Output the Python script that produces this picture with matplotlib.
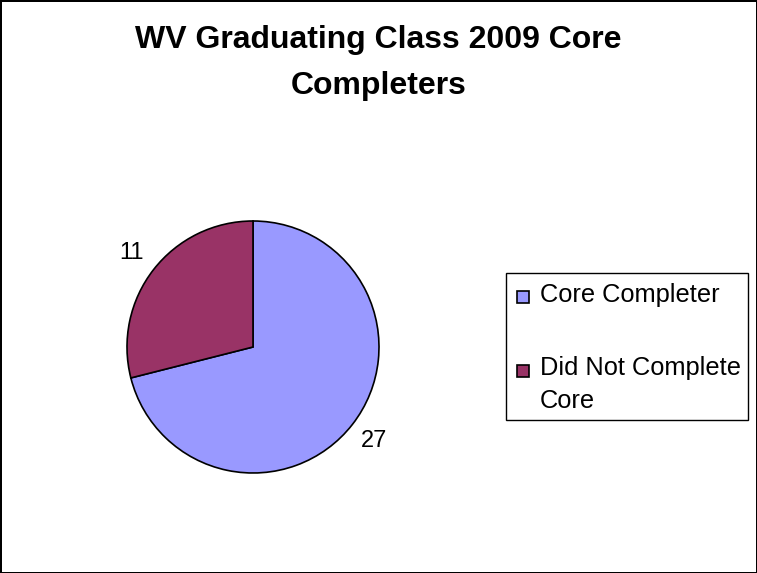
import matplotlib
matplotlib.use('Agg')
import matplotlib.pyplot as plt
from matplotlib.patches import Rectangle

plt.rcParams['font.family'] = ['Liberation Sans', 'DejaVu Sans']

# datos del grafico
categorias = ['Core Completer', 'Did Not Complete\nCore']
valores = [27, 11]
colores = ['#9999FF', '#993366']
titulo = 'WV Graduating Class 2009 Core\nCompleters'
W, H = 757, 573

fig = plt.figure(figsize=(W/100, H/100), dpi=100)
fig.patch.set_edgecolor('black')
fig.patch.set_linewidth(2)

# torta: centro (253,347), radio 126 px
ax = fig.add_axes([127/W, 1-473/H, 252/W, 252/H])
total = sum(valores)
ax.pie(valores, colors=colores, startangle=90, counterclock=False,
       wedgeprops={'edgecolor': 'black', 'linewidth': 1.2},
       autopct=lambda p: '%d' % round(p*total/100.0), pctdistance=1.22,
       textprops={'fontsize': 17})
ax.set_xlim(-1, 1)
ax.set_ylim(-1, 1)
ax.set_aspect('equal')
ax.axis('off')

# baseline de la ultima linea
fig.text(0.5, 1-94/H, titulo, ha='center', va='baseline', fontsize=23,
         fontweight='bold', linespacing=1.69)

# leyenda a mano
fig.add_artist(Rectangle((506/W, 1-420/H), 242/W, 147/H, transform=fig.transFigure,
                         facecolor='white', edgecolor='black', linewidth=1))
ys = [302, 376]
yb = [302, 408]
for cat, col, y, b in zip(categorias, colores, ys, yb):
    fig.add_artist(Rectangle((517/W, 1-(y+1)/H), 12/W, 12/H, transform=fig.transFigure,
                             facecolor=col, edgecolor='black', linewidth=1.2))
    fig.text(540/W, 1-b/H, cat, ha='left', va='baseline', fontsize=18.3, linespacing=1.45)

fig.savefig('out.png', dpi=100)
